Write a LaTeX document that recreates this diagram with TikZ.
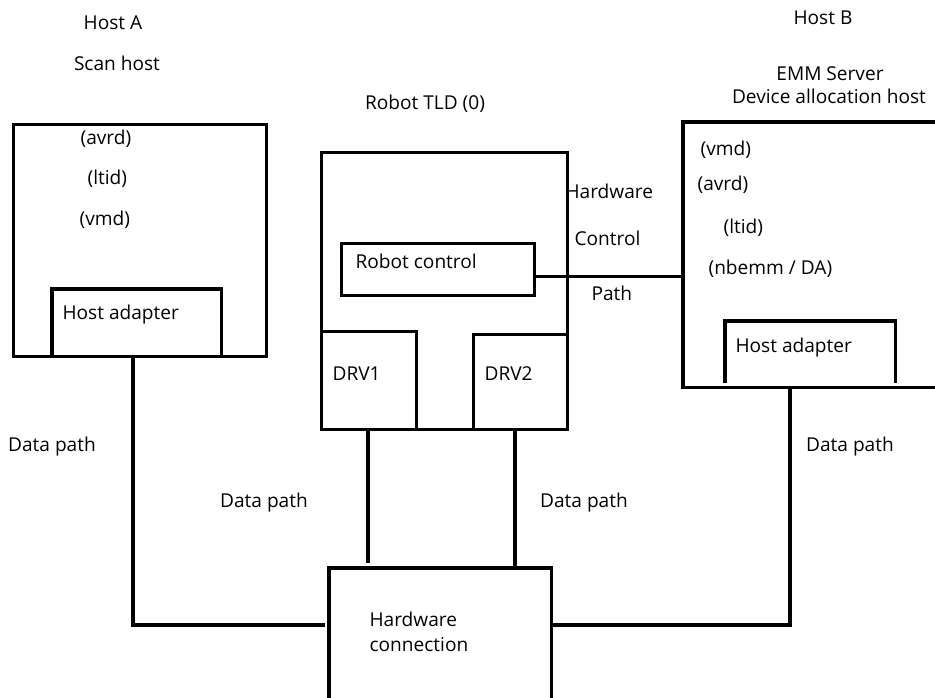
\documentclass[tikz,border=0pt]{standalone}
\usepackage{fontspec}
\setmainfont{Open Sans}
\usetikzlibrary{positioning}
\begin{document}
\begin{tikzpicture}[x=1pt,y=-1pt,line width=3.2pt,
  frame/.style={draw,inner sep=0pt,anchor=north west},
  hollow/.style={inner sep=0pt,anchor=north west},
  lbl/.style={inner sep=0pt,font=\fontsize{19.1}{23}\selectfont},
  lbll/.style={lbl,anchor=west},
  link/.style={line width=2.6pt}]
\useasboundingbox (0,0) rectangle (935,698);
% Host A
\node[lbl] (hostAname) at (113,23) {Host A};
\node[lbl] (hostArole) at (117,63) {Scan host};
\node[frame,minimum width=253pt,minimum height=232pt] (hostA) at (12,123) {};
\node[lbll] (avrdA) at (79,139) {(avrd)};
\node[lbll] (ltidA) at (86,179) {(ltid)};
\node[lbll] (vmdA) at (78,220) {(vmd)};
\node[hollow,minimum width=166pt,minimum height=63pt] (adapA) at (52,289) {};
\draw (adapA.south west) |- (adapA.north east) -- (adapA.south east);
\node[lbll] (adapAtxt) at (61,315) {Host adapter};
% robot
\node[lbl] (robotname) at (425,104) {Robot TLD (0)};
\node[frame,minimum width=246pt,minimum height=277pt] (robot) at (320,151) {};
\node[frame,minimum width=193pt,minimum height=52pt] (rc) at (340,242) {};
\node[lbll] (rctxt) at (354,261) {Robot control};
\node[frame,minimum width=95pt,minimum height=98pt] (drv1) at (320,330) {};
\node[frame,minimum width=94pt,minimum height=95pt] (drv2) at (472,333) {};
\node[lbll] (drv1txt) at (331,374) {DRV1};
\node[lbll] (drv2txt) at (483,374) {DRV2};
\node[lbll] (hwc1) at (564,191) {Hardware};
\node[lbll] (hwc2) at (573,238) {Control};
\node[lbll] (hwc3) at (590,293) {Path};
% Host B
\node[lbl] (hostBname) at (823,18) {Host B};
\node[lbl] (hostBrole1) at (830,74) {EMM Server};
\node[lbl] (hostBrole2) at (829,96) {Device allocation host};
\node[hollow,minimum width=260pt,minimum height=262pt] (hostB) at (683,122) {};
\draw (hostB.north east) -| (hostB.south west) -- (hostB.south east);
\node[lbll] (vmdB) at (699,150) {(vmd)};
\node[lbll] (avrdB) at (696,185) {(avrd)};
\node[lbll] (ltidB) at (722,228) {(ltid)};
\node[lbll] (nbemmB) at (707,269) {(nbemm / DA)};
\node[hollow,minimum width=167pt,minimum height=59pt] (adapB) at (725,321) {};
\draw (adapB.south west) |- (adapB.north east) -- (adapB.south east);
\node[lbll] (adapBtxt) at (734,348) {Host adapter};
% hardware connection
\node[hollow,minimum width=219pt,minimum height=135pt] (hw) at (329,568) {};
\draw (hw.south west) |- (hw.north east) -- (hw.south east);
\node[lbll] (hwtxt1) at (368,619) {Hardware};
\node[lbll] (hwtxt2) at (368,645) {connection};
% data paths
\coordinate (dA) at (133,625);
\coordinate (dB) at (790,625);
\coordinate (d1) at (368,0);
\coordinate (d2) at (515,0);
\draw (hostA.south -| dA) |- ([xshift=-4pt]hw.west |- dA);
\draw (hostB.south -| dB) |- (hw.east |- dB);
\draw[shorten >=5pt] (drv1.south -| d1) -- (hw.north -| d1);
\draw (drv2.south -| d2) -- (hw.north -| d2);
\coordinate (rcout) at ([yshift=-7pt]rc.east);
\draw[link] (rcout) -- (rcout -| hostB.west);
\node[lbl] (dpA) at (52,447) {Data path};
\node[lbl] (dp1) at (264,503) {Data path};
\node[lbl] (dp2) at (584,503) {Data path};
\node[lbl] (dpB) at (850,447) {Data path};
\end{tikzpicture}
\end{document}
